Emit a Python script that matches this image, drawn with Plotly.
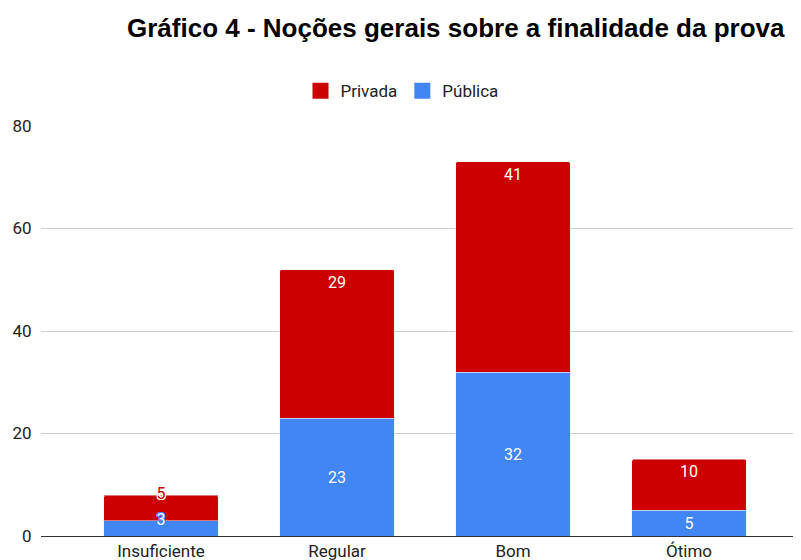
import plotly.graph_objects as go

categories = ["Insuficiente", "Regular", "Bom", "Ótimo"]
publica = [3, 23, 32, 5]
privada = [5, 29, 41, 10]
y_ticks = [0, 20, 40, 60, 80]

RED = "#cc0000"
BLUE = "#4285f4"
FONT = "Roboto, Arial, sans-serif"
OFF = 8  # default body margin of the html page

# small segments whose labels don't fit: drawn separately with outline
small = [i for i in range(len(categories)) if publica[i] + privada[i] < 10]
pub_text = ["" if i in small else str(v) for i, v in enumerate(publica)]
pri_text = ["" if i in small else str(v) for i, v in enumerate(privada)]

fig = go.Figure()
fig.add_trace(go.Bar(
    x=categories, y=publica, name="Pública", marker_color=BLUE,
    text=pub_text, textposition="inside", insidetextanchor="middle",
    textfont=dict(color="white", size=16, family=FONT), constraintext="none",
    showlegend=False,
))
fig.add_trace(go.Bar(
    x=categories, y=privada, name="Privada", marker_color=RED,
    text=pri_text, textposition="inside", insidetextanchor="end",
    textfont=dict(color="white", size=16, family=FONT), constraintext="none",
    showlegend=False,
))

outline_w = "1px 1px 0 white, -1px -1px 0 white, 1px -1px 0 white, -1px 1px 0 white, 0 1px 0 white, 0 -1px 0 white, 1px 0 0 white, -1px 0 0 white"
outline_b = outline_w.replace("white", BLUE)
fig.add_trace(go.Scatter(
    x=[categories[i] for i in small], y=[publica[i] for i in small],
    mode="text", text=[str(publica[i]) for i in small], textposition="middle center",
    textfont=dict(color="white", size=16, family=FONT, shadow=outline_b),
    showlegend=False, hoverinfo="skip",
))
fig.add_trace(go.Scatter(
    x=[categories[i] for i in small], y=[publica[i] + privada[i] for i in small],
    mode="text", text=[str(privada[i]) for i in small], textposition="middle center",
    textfont=dict(color=RED, size=16, family=FONT, shadow=outline_w),
    showlegend=False, hoverinfo="skip",
))

# legend entries (square swatches)
for name, color in [("Privada", RED), ("Pública", BLUE)]:
    fig.add_trace(go.Scatter(
        x=[None], y=[None], mode="markers", name=name,
        marker=dict(symbol="square", size=16, color=color),
        showlegend=True, hoverinfo="skip",
    ))

fig.update_layout(
    width=801, height=560,
    barmode="stack", bargap=0.35, barcornerradius=2,
    paper_bgcolor="white", plot_bgcolor="white",
    margin=dict(l=41 - OFF, r=OFF, t=126 - OFF, b=560 + OFF - 536, autoexpand=False),
    title=dict(
        text="<b>Gráfico 4 - Noções gerais sobre a finalidade da prova</b>",
        font=dict(family="Liberation Sans, Arial, sans-serif", size=26, color="#000000"),
        x=(127 - OFF) / 801, xanchor="left", xref="container",
        y=1 - (28 - OFF) / 560, yanchor="middle", yref="container",
    ),
    legend=dict(
        orientation="h", x=0.475, xanchor="center", y=1.085, yanchor="middle",
        font=dict(family=FONT, size=17, color="#222222"),
        traceorder="normal", itemwidth=30,
    ),
    xaxis=dict(
        range=[-0.682, 3.636], showgrid=False,
        showline=True, linecolor="#333333", linewidth=1,
        tickfont=dict(family=FONT, size=17, color="#222222"),
        ticks="", fixedrange=True,
    ),
    yaxis=dict(
        range=[0, 80], tickvals=y_ticks, showgrid=True, gridcolor="#cccccc",
        zeroline=False, showline=False,
        tickfont=dict(family=FONT, size=17, color="#222222"),
        ticks="outside", ticklen=5, tickcolor="rgba(0,0,0,0)",
    ),
)

fig.write_html("out.html")
